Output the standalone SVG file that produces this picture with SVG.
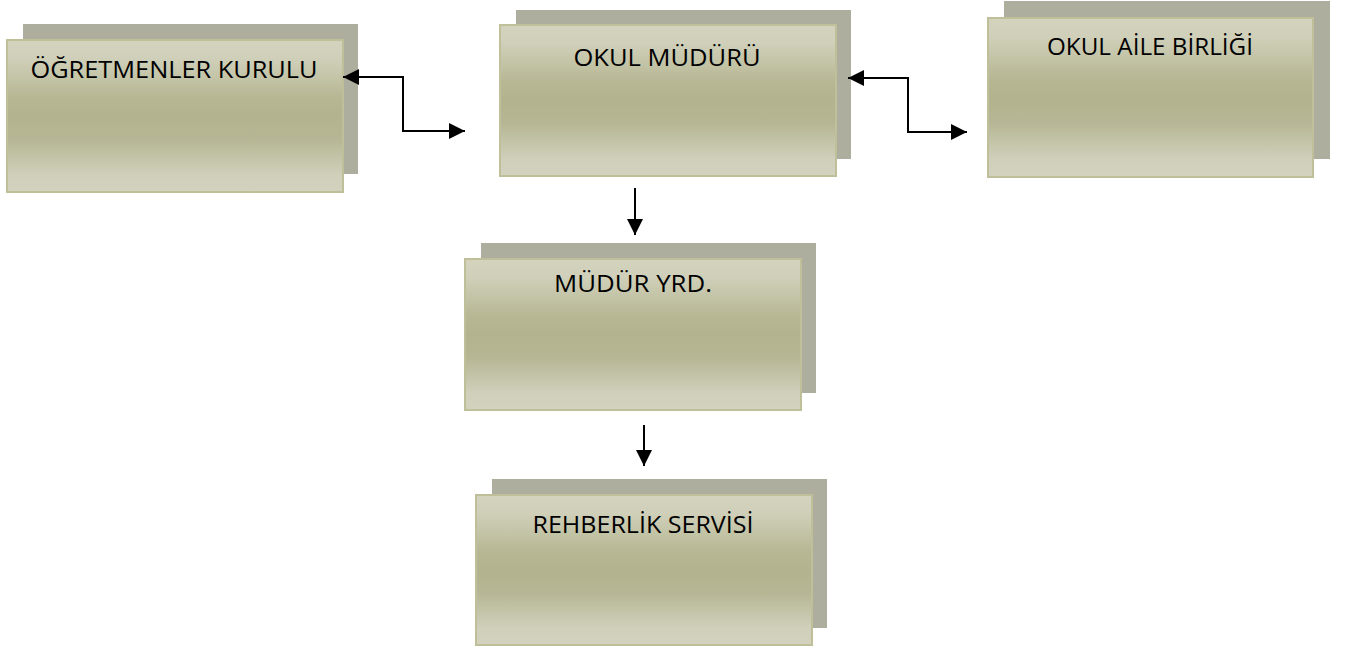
<svg xmlns="http://www.w3.org/2000/svg" width="1357" height="648" viewBox="0 0 1357 648">
<defs>
<linearGradient id="g" x1="0" y1="0" x2="0" y2="1">
<stop offset="0" stop-color="#d3d3be"/>
<stop offset="0.12" stop-color="#d0d0ba"/>
<stop offset="0.38" stop-color="#b7b794"/>
<stop offset="0.5" stop-color="#b3b38f"/>
<stop offset="0.65" stop-color="#b6b694"/>
<stop offset="0.88" stop-color="#cfcfba"/>
<stop offset="1" stop-color="#d2d2be"/>
</linearGradient>
<marker id="ah" viewBox="0 0 10 10" refX="10" refY="5" markerWidth="8" markerHeight="8" markerUnits="strokeWidth" orient="auto-start-reverse">
<path d="M0,0 L10,5 L0,10 Z" fill="#000"/>
</marker>
<style>
.sh{fill:#aeae9e}
.fr{fill:url(#g);stroke:#bfbf9a;stroke-width:2}
.tx{font-family:"Open Sans","Noto Sans","DejaVu Sans",sans-serif;font-size:23px;fill:#000;text-anchor:middle}
.cn{fill:none;stroke:#000;stroke-width:2}
</style>
</defs>
<g id="node-ogretmenler">
<rect class="sh" x="23" y="24" width="335" height="150"/>
<rect class="fr" x="7" y="40" width="336" height="152"/>
<text class="tx" x="174" y="78" textLength="287" lengthAdjust="spacingAndGlyphs">ÖĞRETMENLER KURULU</text>
</g>
<g id="node-mudur">
<rect class="sh" x="516" y="10" width="335" height="149"/>
<rect class="fr" x="500" y="25" width="336" height="151"/>
<text class="tx" x="667" y="66" textLength="187" lengthAdjust="spacingAndGlyphs">OKUL MÜDÜRÜ</text>
</g>
<g id="node-aile">
<rect class="sh" x="1004" y="1" width="326" height="158"/>
<rect class="fr" x="988" y="18" width="325" height="159"/>
<text class="tx" x="1150" y="55" textLength="206" lengthAdjust="spacingAndGlyphs">OKUL AİLE BİRLİĞİ</text>
</g>
<g id="node-yrd">
<rect class="sh" x="481" y="243" width="335" height="150"/>
<rect class="fr" x="465" y="259" width="336" height="151"/>
<text class="tx" x="633" y="292" textLength="158" lengthAdjust="spacingAndGlyphs">MÜDÜR YRD.</text>
</g>
<g id="node-rehberlik">
<rect class="sh" x="492" y="479" width="335" height="149"/>
<rect class="fr" x="476" y="495" width="336" height="150"/>
<text class="tx" x="643" y="533" textLength="221" lengthAdjust="spacingAndGlyphs">REHBERLİK SERVİSİ</text>
</g>
<g id="connectors">
<path class="cn" d="M343,77 H403 V131 H465" marker-start="url(#ah)" marker-end="url(#ah)"/>
<path class="cn" d="M848,78 H908 V132 H967" marker-start="url(#ah)" marker-end="url(#ah)"/>
<path class="cn" d="M635,188 V235" marker-end="url(#ah)"/>
<path class="cn" d="M644,425 V466" marker-end="url(#ah)"/>
</g>
</svg>
